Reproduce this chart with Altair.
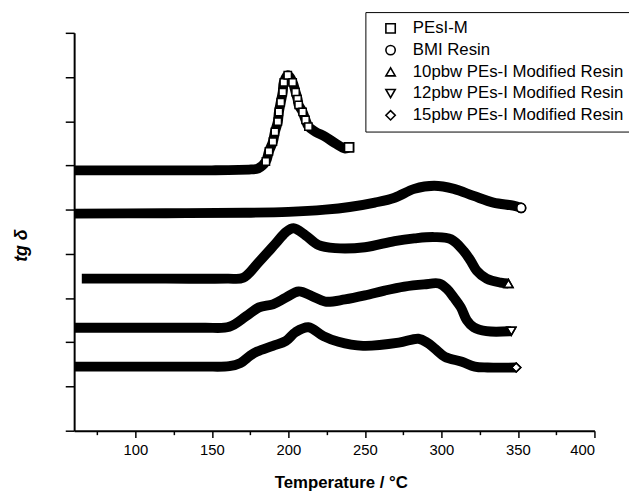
import altair as alt
import pandas as pd

series_names = [
    "PEsI-M",
    "BMI Resin",
    "10pbw PEs-I Modified Resin",
    "12pbw PEs-I Modified Resin",
    "15pbw PEs-I Modified Resin",
]
shapes = ["square", "circle", "triangle-up", "triangle-down", "diamond"]

t_pesi = [60, 120, 150, 175.7, 180.2, 185.3, 187.3, 189.9, 191.2, 193.1, 193.8, 195.0, 196.3, 197.0,
          199.6, 202.8, 204.7, 206.0, 206.7, 209.3, 211.2, 213.1, 217.7, 224.1, 230.6, 237.1, 239.6]
v_pesi = [5.89, 5.89, 5.89, 5.91, 5.93, 6.09, 6.32, 6.54, 6.76, 6.99, 7.21, 7.43, 7.66, 7.88,
          8.04, 7.88, 7.66, 7.50, 7.37, 7.21, 7.03, 6.88, 6.76, 6.65, 6.50, 6.38, 6.41]

t_bmi = [60, 120, 172.4, 200.0, 224.1, 240.0, 256.5, 269.4, 282.3, 295.3, 308.2, 321.1, 334.0, 347.0, 352.1]
v_bmi = [4.91, 4.92, 4.93, 4.95, 5.00, 5.06, 5.16, 5.27, 5.47, 5.54, 5.47, 5.31, 5.16, 5.09, 5.04]

t_10 = [65, 120, 160, 170.5, 180.8, 191.8, 198.3, 203.4, 211.2, 219.6, 230.6, 250.0, 269.4, 282.3,
        295.3, 306.3, 314.7, 319.2, 323.1, 329.5, 338.6, 343.8]
v_10 = [3.44, 3.44, 3.44, 3.46, 3.82, 4.24, 4.49, 4.58, 4.42, 4.20, 4.13, 4.15, 4.29, 4.35,
        4.38, 4.33, 4.06, 3.84, 3.62, 3.44, 3.35, 3.33]

t_12 = [60, 115, 145, 161.4, 172.4, 180.8, 189.9, 198.3, 206.7, 215.7, 224.1, 237.0, 250.0, 262.9,
        275.8, 288.7, 298.4, 303.6, 308.2, 312.7, 316.6, 321.1, 329.5, 345.7]
v_12 = [2.33, 2.33, 2.33, 2.35, 2.59, 2.79, 2.86, 3.01, 3.15, 3.04, 2.92, 2.97, 3.06, 3.17,
        3.26, 3.31, 3.33, 3.21, 3.01, 2.79, 2.50, 2.34, 2.25, 2.25]

t_15 = [60, 115, 145, 161.4, 168.6, 175.0, 179.6, 189.9, 198.3, 204.7, 213.1, 222.9, 232.7, 248.8,
        272.1, 285.0, 290.8, 295.9, 302.3, 313.4, 321.8, 330.2, 348.9]
v_15 = [1.45, 1.45, 1.45, 1.46, 1.53, 1.70, 1.79, 1.92, 2.03, 2.23, 2.34, 2.14, 2.01, 1.92,
        1.99, 2.08, 1.99, 1.85, 1.67, 1.56, 1.45, 1.43, 1.43]

x_ticks = list(range(75, 401, 25))
y_ticks = [i * 0.5 for i in range(0, 19)]

rows = []
for name, ts, vs in zip(series_names,
                        [t_pesi, t_bmi, t_10, t_12, t_15],
                        [v_pesi, v_bmi, v_10, v_12, v_15]):
    for i, (t, v) in enumerate(zip(ts, vs)):
        rows.append({"series": name, "T": t, "v": v, "idx": i, "last": i == len(ts) - 1})
df = pd.DataFrame(rows)

ends = df[df["last"]]
steep = df[(df["series"] == "PEsI-M") & (df["T"] >= 185) & (df["T"] <= 214)]

FONT = "Liberation Sans"

x_enc = alt.X(
    "T:Q",
    scale=alt.Scale(domain=[60, 400], nice=False, zero=False),
    axis=alt.Axis(
        values=x_ticks,
        labelExpr="datum.value % 50 === 0 ? datum.label : ''",
        tickSize={"condition": {"test": "datum.value % 50 === 0", "value": 7}, "value": 4},
        title="Temperature / °C",
        titleFont=FONT, titleFontSize=17, titleFontWeight="bold",
        titleX=270, titleY=58, titleBaseline="alphabetic", titleAlign="center",
        labelFont=FONT, labelFontSize=15, labelPadding=5, labelColor="black",
        domainColor="black", domainWidth=2, tickColor="black", tickWidth=1.5,
        grid=False,
    ),
)
y_enc = alt.Y(
    "v:Q",
    scale=alt.Scale(domain=[0, 9], nice=False, zero=False),
    axis=alt.Axis(
        values=y_ticks,
        labels=False,
        tickSize={"condition": {"test": "datum.value % 1 === 0", "value": 9}, "value": 5},
        title="tg δ",
        titleFont=FONT, titleFontSize=18, titleFontWeight="bold", titleFontStyle="italic",
        titleX=-53, titleY=215, titleAngle=270, titleAlign="center", titleBaseline="middle",
        domainColor="black", domainWidth=2, tickColor="black", tickWidth=1.5,
        grid=False,
    ),
)

lines = alt.Chart(df).mark_line(
    color="black", strokeWidth=10, interpolate="catmull-rom", strokeCap="butt", strokeJoin="round"
).encode(x=x_enc, y=y_enc, detail="series:N", order="idx:Q")

steep_pts = alt.Chart(steep).mark_point(
    shape="square", filled=True, fill="white", stroke="black", strokeWidth=1.5, size=55, opacity=1
).encode(x="T:Q", y="v:Q")

# white-filled end markers, one constant shape per series
end_fill_layers = []
for name, shp in zip(series_names, shapes):
    end_fill_layers.append(
        alt.Chart(ends[ends["series"] == name]).mark_point(
            shape=shp, filled=True, fill="white", stroke="black", strokeWidth=1.5, size=85, opacity=1
        ).encode(x="T:Q", y="v:Q")
    )

shape_scale = alt.Scale(domain=series_names, range=shapes)

legend_pts = alt.Chart(ends).mark_point(
    filled=False, color="black", strokeWidth=1.5, size=85, opacity=1
).encode(
    x="T:Q", y="v:Q",
    shape=alt.Shape(
        "series:N", scale=shape_scale,
        legend=alt.Legend(
            title=None, orient="none", legendX=295, legendY=-21,
            strokeColor="black", padding=8, cornerRadius=0,
            symbolOffset=9, labelOffset=14, labelFont=FONT, labelFontSize=17,
            labelColor="black", rowPadding=4, symbolSize=90, symbolStrokeWidth=1.6,
            labelLimit=400,
        ),
    ),
)

chart = alt.layer(lines, steep_pts, *end_fill_layers, legend_pts).properties(
    width=527, height=403,
    autosize=alt.AutoSizeParams(type="none"),
    padding={"left": 67, "top": 22, "right": 35, "bottom": 64},
    background="white",
).configure_view(stroke=None)

chart.save("out.html", embed_options={"renderer": "svg", "actions": False})
